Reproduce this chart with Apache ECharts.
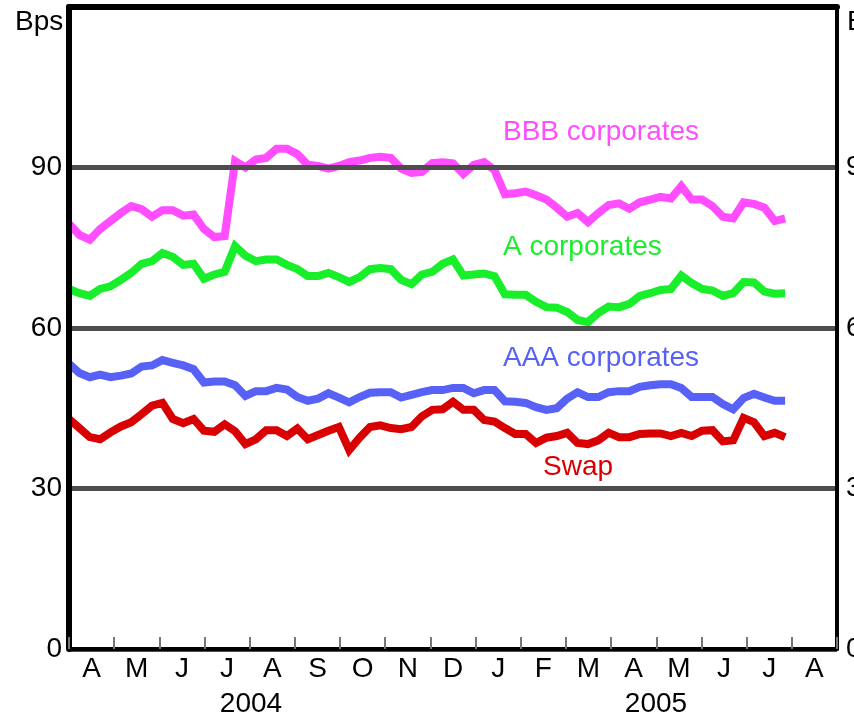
<!DOCTYPE html>
<html>
<head>
<meta charset="utf-8">
<script src="https://cdn.jsdelivr.net/npm/echarts@6/dist/echarts.min.js"></script>
<style>
html,body{margin:0;padding:0;background:#fff;}
#chart{width:854px;height:716px;}
</style>
</head>
<body>
<div id="chart"></div>
<script>
// Month labels (Apr 2004 .. Aug 2005)
var months = ['A','M','J','J','A','S','O','N','D','J','F','M','A','M','J','J','A'];
var yearLabels = ['2004', '2005'];
var yTicks = [0, 30, 60, 90, 120];
// Weekly observations starting 2004-04-01
var startDate = '2004-04-01';
var bbb = [79.5,77.4,76.5,78.5,80,81.5,82.8,82.2,80.8,82,82,81,81.2,78.5,77,77.2,
  91.2,90,91.5,91.8,93.5,93.5,92.5,90.5,90.3,89.8,90.3,91,91.3,91.8,92,91.8,89.8,89,89.2,90.8,
  91,90.8,88.8,90.5,91,89.5,85,85.2,85.5,84.8,84,82.5,80.8,81.5,79.8,81.5,83,83.3,82.3,83.5,
  84,84.5,84.2,86.5,84,84,82.8,80.8,80.5,83.5,83.2,82.5,80,80.5];
var aCorp = [67.3,66.5,66,67.3,67.8,69,70.3,72,72.5,74,73.3,71.8,72,69.2,70,70.5,
  75.3,73.5,72.5,72.8,72.8,71.8,71,69.7,69.7,70.3,69.5,68.6,69.5,71,71.2,71,69,68.2,70,70.5,
  72,72.8,69.8,70,70.2,69.7,66.3,66.2,66.2,64.9,63.9,63.8,63,61.5,61.1,62.8,64,63.9,64.5,66,
  66.5,67.1,67.3,69.8,68.4,67.3,67,66,66.5,68.6,68.5,66.8,66.4,66.5];
var aaa = [53.3,51.6,50.8,51.3,50.8,51.1,51.5,52.8,53,54,53.5,53,52.3,49.8,50,50,
  49.3,47.3,48.2,48.2,48.8,48.5,47.1,46.4,46.8,47.8,47,46.1,47.1,47.9,48,48,47,47.5,48,48.4,
  48.4,48.8,48.8,47.8,48.4,48.4,46.3,46.2,46,45.2,44.7,45,46.8,48,47.1,47.1,48,48.2,48.2,49,
  49.3,49.5,49.5,48.8,47.1,47.1,47.1,45.8,44.8,46.9,47.7,47,46.4,46.4];
var swap = [43,41.3,39.6,39.2,40.5,41.6,42.4,43.9,45.5,46,43,42.2,43,40.8,40.6,42,
  40.7,38.3,39.2,40.9,40.9,39.8,41.2,39.2,40,40.8,41.5,37.2,39.5,41.5,41.8,41.3,41.1,41.5,43.5,44.7,
  44.8,46.2,44.7,44.7,42.8,42.5,41.3,40.2,40.2,38.5,39.5,39.8,40.4,38.5,38.3,39,40.4,39.6,39.6,40.2,
  40.3,40.3,39.8,40.4,39.8,40.8,40.9,38.8,39,43.2,42.4,39.8,40.4,39.6];
var seriesNames = ['BBB corporates', 'A corporates', 'AAA corporates', 'Swap'];
var seriesColors = ['#ff4dff', '#19ee2a', '#5761f5', '#d80000'];

function weekly(vals) {
  var t0 = new Date(startDate + 'T00:00:00Z').getTime();
  return vals.map(function (v, i) { return [t0 + i * 7 * 86400000, v]; });
}

var FONT = 'Liberation Sans, Arial, sans-serif';
var chart = echarts.init(document.getElementById('chart'), null, {renderer: 'canvas'});

var allData = [bbb, aCorp, aaa, swap];
var series = allData.map(function (vals, k) {
  return {
    name: seriesNames[k], type: 'line', xAxisIndex: 1, yAxisIndex: 0,
    data: weekly(vals), showSymbol: false, smooth: false, z: 5,
    lineStyle: {color: seriesColors[k], width: 8, join: 'miter'},
    itemStyle: {color: seriesColors[k]}, animation: false
  };
});

var labelTops = [118, 233, 344, 453];
var labelLefts = [503, 503, 503, 543];
var graphics = seriesNames.map(function (n, k) {
  return {type: 'text', left: labelLefts[k], top: labelTops[k], z: 10,
    style: {text: n, fill: seriesColors[k], font: '28px ' + FONT}};
});
graphics.push({type: 'text', left: 15, top: 8, style: {text: 'Bps', fill: '#000', font: '28px ' + FONT}});
graphics.push({type: 'text', left: 847, top: 8, style: {text: 'Bps', fill: '#000', font: '28px ' + FONT}});
graphics.push({type: 'text', x: 251, y: 690, style: {text: yearLabels[0], fill: '#000', font: '28px ' + FONT, textAlign: 'center'}});
graphics.push({type: 'text', x: 656, y: 690, style: {text: yearLabels[1], fill: '#000', font: '28px ' + FONT, textAlign: 'center'}});

function tickFmt(v) { return v === yTicks[yTicks.length - 1] ? '' : String(v); }

var yCommon = {
  type: 'value', min: yTicks[0], max: yTicks[yTicks.length - 1], interval: 30,
  axisTick: {show: false}
};

chart.setOption({
  animation: false,
  backgroundColor: '#fff',
  grid: {left: 69, right: 17, top: 7, bottom: 67, containLabel: false, outerBoundsMode: 'none'},
  xAxis: [
    {type: 'category', data: months, position: 'bottom', boundaryGap: true,
     axisLine: {show: true, onZero: false, lineStyle: {color: '#000', width: 4}},
     axisTick: {show: true, inside: true, length: 12, lineStyle: {color: '#777', width: 2}},
     axisLabel: {fontSize: 28, fontFamily: FONT, color: '#000', margin: 6},
     splitLine: {show: false}, z: 6},
    {type: 'time', position: 'top', min: '2004-04-01', max: '2005-09-01',
     axisLine: {show: true, onZero: false, lineStyle: {color: '#000', width: 6}},
     axisTick: {show: false}, axisLabel: {show: false}, splitLine: {show: false}, z: 6}
  ],
  yAxis: [
    Object.assign({}, yCommon, {position: 'left',
      axisLine: {show: true, onZero: false, lineStyle: {color: '#000', width: 6}},
      axisLabel: {fontSize: 28, fontFamily: FONT, color: '#000', margin: 7, formatter: tickFmt},
      splitLine: {show: true, lineStyle: {color: '#4d4d4d', width: 5}}, z: 6}),
    Object.assign({}, yCommon, {position: 'right',
      axisLine: {show: true, onZero: false, lineStyle: {color: '#000', width: 4}},
      axisLabel: {fontSize: 28, fontFamily: FONT, color: '#000', margin: 9, formatter: tickFmt},
      splitLine: {show: false}, z: 6})
  ],
  series: series,
  graphic: graphics
});
</script>
</body>
</html>
